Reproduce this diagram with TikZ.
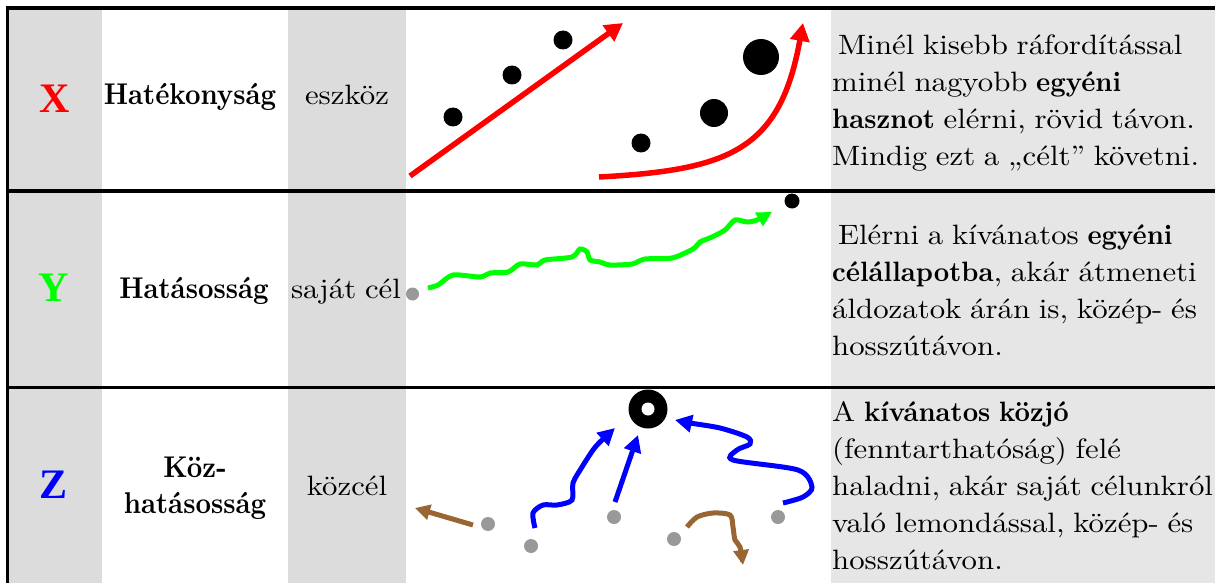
\documentclass[tikz,border=0pt]{standalone}
\usepackage{fontspec}
\setmainfont{lmroman10}[Extension=.otf, UprightFont=*-regular, BoldFont=*-bold,
  WordSpace=0.85,
  UprightFeatures={FakeStretch=1.10}, BoldFeatures={FakeStretch=0.96}]
\newfontfamily\termfont{lmroman10-bold.otf}[FakeStretch=0.9]
\newfontfamily\letterfont{Liberation Serif}
\usetikzlibrary{arrows.meta}

\definecolor{cellgray}{RGB}{220,220,220}
\definecolor{descgray}{RGB}{230,230,230}
\definecolor{dotgray}{RGB}{153,153,153}
\definecolor{brownpath}{RGB}{153,102,51}
\definecolor{puregreen}{RGB}{0,255,0}
\definecolor{pureblue}{RGB}{0,0,255}
\definecolor{purered}{RGB}{255,0,0}

% multi-line nodes are placed by the baseline of their last line
\tikzset{
  rowletter/.style={font=\letterfont\bfseries\fontsize{42}{42}\selectfont, inner sep=0pt},
  termtext/.style={font=\termfont\fontsize{30}{36}\selectfont, align=center, inner sep=0pt, anchor=base},
  tooltext/.style={font=\fontsize{28}{36}\selectfont, inner sep=0pt, anchor=base},
  desctext/.style={font=\fontsize{28}{37}\selectfont, align=left, inner sep=0pt, anchor=base west},
  rule/.style={line width=#1, black},
  bigdot/.style={circle, fill=black, inner sep=0pt, minimum size=#1},
  startdot/.style={circle, fill=dotgray, inner sep=0pt, minimum size=14pt},
  redarrow/.style={draw=purered, line width=5.5pt, -{Triangle[length=18pt,width=19pt]}},
  greenarrow/.style={draw=puregreen, line width=5pt, -{Triangle[length=15pt,width=15pt]}},
  bluearrow/.style={draw=pureblue, line width=5pt, -{Triangle[length=17pt,width=17pt]}},
  brownarrow/.style={draw=brownpath, line width=5pt, -{Triangle[length=15pt,width=15pt]}},
}

\begin{document}
\begin{tikzpicture}[x=1pt, y=-1pt]
\useasboundingbox (0,0) rectangle (1215,583);

% shaded columns
\fill[cellgray] (9,8) rectangle (102,583);
\fill[cellgray] (288,8) rectangle (406,583);
\fill[descgray] (831,8) rectangle (1215,583);

% table rules
\draw[rule=4pt] (6,8) -- (1215,8);
\draw[rule=4pt] (7.5,191) -- (1215,191);
\draw[rule=3pt] (7.5,387) -- (1215,387);
\draw[rule=3pt] (7.5,6) -- (7.5,583);

% ---------- row X ----------
\node[rowletter, text=purered] (lx) at (55,99) {X};
\node[termtext] (tx) at (190,105) {Hatékonyság};
\node[tooltext] (mx) at (347,105) {eszköz};
\node[desctext] (dx) at (832,165) {\hspace*{6pt}Minél kisebb ráfordítással\\
  minél nagyobb \textbf{egyéni}\\
  \textbf{hasznot} elérni, rövid távon.\\
  Mindig ezt a „célt” követni.};

\node[bigdot=19pt] (p1) at (453,117) {};
\node[bigdot=19pt] (p2) at (512,75) {};
\node[bigdot=19pt] (p3) at (563,40) {};
\coordinate (lin0) at (410,176);
\coordinate (lin1) at (623,23);
\draw[redarrow] (lin0) -- (lin1);

\node[bigdot=19pt] (q1) at (641,143) {};
\node[bigdot=28pt] (q2) at (714,113) {};
\node[bigdot=36pt] (q3) at (761,57) {};
\coordinate (exp0) at (599,177);
\coordinate (exp1) at (803,23);
\draw[redarrow] (exp0) .. controls (730,170) and (780,150) .. (exp1);

% ---------- row Y ----------
\node[rowletter, text=puregreen] (ly) at (54,288) {Y};
\node[termtext] (ty) at (194,298) {Hatásosság};
\node[tooltext] (my) at (346,298) {saját cél};
\node[desctext] (dy) at (832,355) {\hspace*{6pt}Elérni a kívánatos \textbf{egyéni}\\
  \textbf{célállapotba}, akár átmeneti\\
  áldozatok árán is, közép- és\\
  hosszútávon.};

\node[startdot, minimum size=13pt] (ys) at (412.5,294) {};
\node[bigdot=15pt] (yg) at (792,201) {};
\coordinate (yw0) at (428,288);
\coordinate (yw1) at (772,212);
\draw[greenarrow] plot[smooth, tension=0.45] coordinates {
  (yw0) (438,285) (453,275) (480,277) (490,273) (508,272) (520,264)
  (537,265) (545,260) (572,257) (580,249) (587,252) (590,260) (600,262)
  (610,265) (632,264) (645,259) (672,258) (693,249) (700,242) (712,237)
  (725,230) (735,220) (747,222) (757,220) (yw1)};

% ---------- row Z ----------
\node[rowletter, text=pureblue] (lz) at (54,485) {Z};
\node[termtext] (tz) at (195,513) {Köz-\\hatásosság};
\node[tooltext] (mz) at (347,495) {közcél};
\node[desctext] (dz) at (832,569) {A \textbf{kívánatos közjó}\\
  (fenntarthatóság) felé\\
  haladni, akár saját célunkról\\
  való lemondással, közép- és\\
  hosszútávon.};

\node[bigdot=39pt] (goal) at (648,409) {};
\fill[white] (goal.center) circle (6.5);

\node[startdot] (g1) at (488,524) {};
\node[startdot] (g2) at (531,546) {};
\node[startdot] (g3) at (614,517) {};
\node[startdot] (g4) at (674,539) {};
\node[startdot] (g5) at (778,517) {};

% walking away from the common goal
\coordinate (bl0) at (473,525);
\coordinate (bl1) at (415,508);
\draw[brownarrow] (bl0) -- (bl1);
\coordinate (br0) at (687,527);
\coordinate (br1) at (743,565);
\draw[brownarrow] plot[smooth, tension=0.5] coordinates {
  (br0) (697,517) (713,513) (730,515) (733,527) (735,540) (740,547) (br1)};

% walking towards the common goal
\coordinate (u0) at (535,528);
\coordinate (u1) at (615,428);
\draw[bluearrow] plot[smooth, tension=0.5] coordinates {
  (u0) (533,513) (543,505) (557,505) (572,500) (573,483) (582,467)
  (593,450) (600,442) (u1)};
\coordinate (v0) at (615,502);
\coordinate (v1) at (638,435);
\draw[bluearrow] (v0) -- (v1);
\coordinate (w0) at (783,503);
\coordinate (w1) at (675,420);
\draw[bluearrow] plot[smooth, tension=0.5] coordinates {
  (w0) (803,497) (812,487) (798,470) (733,460) (737,450) (750,444)
  (747,437) (720,428) (690,423) (w1)};
\end{tikzpicture}
\end{document}
